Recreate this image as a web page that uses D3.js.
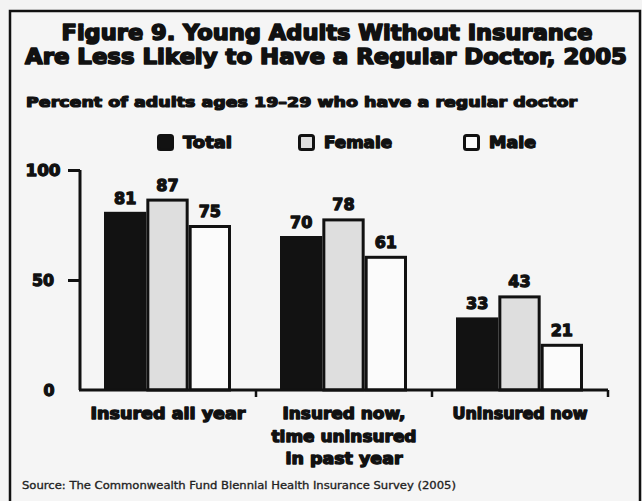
<!DOCTYPE html>
<html><head><meta charset="utf-8">
<script src="https://cdn.jsdelivr.net/npm/d3@7/dist/d3.min.js"></script>
<style>body{margin:0;background:#f3f3f3}svg{display:block}</style>
</head><body><svg id="c" width="642" height="501"></svg>
<script>
const titleLines = ["Figure 9. Young Adults Without Insurance", "Are Less Likely to Have a Regular Doctor, 2005"];
const subtitle = "Percent of adults ages 19\u201329 who have a regular doctor";
const source = "Source: The Commonwealth Fund Biennial Health Insurance Survey (2005)";
const categories = ["Insured all year", "Insured now, time uninsured in past year", "Uninsured now"];
const categoryLines = [["Insured all year"], ["Insured now,", "time uninsured", "in past year"], ["Uninsured now"]];
const series = ["Total", "Female", "Male"];
const totalValues = [81, 70, 33];
const femaleValues = [87, 78, 43];
const maleValues = [75, 61, 21];
const yTicks = [0, 50, 100];

const seriesValues = {Total: totalValues, Female: femaleValues, Male: maleValues};
const fills = {Total: "#121212", Female: "#dedede", Male: "#fbfbfb"};
const FONT = "'DejaVu Sans', 'Liberation Sans', sans-serif";

const svg = d3.select("#c");
svg.append("rect").attr("width", 642).attr("height", 501).attr("fill", "#f3f3f3");
// frame
svg.append("rect").attr("x", 10).attr("y", 11).attr("width", 630).attr("height", 520)
  .attr("fill", "#f5f5f5").attr("stroke", "#111").attr("stroke-width", 2.5);

function bold(sel, size, sw) {
  return sel.attr("font-family", FONT).attr("font-weight", "bold").attr("font-size", size)
    .attr("fill", "#111").attr("stroke", "#111").attr("stroke-width", sw)
    .attr("stroke-linejoin", "round").attr("paint-order", "stroke");
}

// titles
const titleLayout = [{x: 327, y: 40, w: 531}, {x: 326, y: 64, w: 602}];
titleLines.forEach((t, i) => {
  bold(svg.append("text"), 21, 1.6).attr("x", titleLayout[i].x).attr("y", titleLayout[i].y)
    .attr("text-anchor", "middle").attr("textLength", titleLayout[i].w)
    .attr("lengthAdjust", "spacingAndGlyphs").text(t);
});
bold(svg.append("text"), 14, 1.2).attr("x", 26).attr("y", 107)
  .attr("textLength", 551).attr("lengthAdjust", "spacingAndGlyphs").text(subtitle);

// scales
const x0 = d3.scaleBand().domain(categories).range([80, 608]).padding(0);
const x1 = d3.scaleBand().domain(series).range([24, 151]).padding(0);
const y = d3.scaleLinear().domain([0, 100]).range([390, 170]);

// legend
const legendX = [157, 298, 463];
const legendW = [49, 68, 47];
series.forEach((s, i) => {
  svg.append("rect").attr("x", legendX[i] + 1.5).attr("y", 135.5).attr("width", 14).attr("height", 14)
    .attr("rx", 2).attr("fill", fills[s]).attr("stroke", "#111").attr("stroke-width", 3);
  bold(svg.append("text"), 15, 1.3).attr("x", legendX[i] + 26).attr("y", 148)
    .attr("textLength", legendW[i]).attr("lengthAdjust", "spacingAndGlyphs").text(s);
});

// bars
const g = svg.append("g");
categories.forEach((c, ci) => {
  series.forEach(s => {
    const v = seriesValues[s][ci];
    const bx = x0(c) + x1(s);
    const outlined = s !== "Total";
    g.append("rect")
      .attr("x", bx + (outlined ? 1.5 : 0))
      .attr("y", y(v) + (outlined ? 1.5 : 0))
      .attr("width", x1.bandwidth() - (outlined ? 3 : 0))
      .attr("height", y(0) - y(v) - (outlined ? 1.5 : 0))
      .attr("fill", fills[s])
      .attr("stroke", outlined ? "#111" : "none")
      .attr("stroke-width", 3);
    bold(g.append("text"), 16, 1.3).attr("x", bx + x1.bandwidth() / 2).attr("y", y(v) - 8)
      .attr("text-anchor", "middle").text(v);
  });
});

// y axis
const yAxis = svg.append("g").attr("transform", "translate(80,0)")
  .call(d3.axisLeft(y).tickValues(yTicks).tickSize(12).tickPadding(8).tickFormat(d3.format("d")));
yAxis.select(".domain").attr("d", "M0," + y(100) + "V" + y(0)).attr("stroke", "#111").attr("stroke-width", 3);
yAxis.selectAll(".tick line").attr("stroke", "#111").attr("stroke-width", 3)
  .attr("display", d => d === 0 ? "none" : null);
yAxis.selectAll(".tick text").call(s => bold(s, 16, 1.3))
  .attr("text-anchor", "middle").attr("x", d => d === 0 ? -31 : -37).attr("dy", "0.35em")
  .attr("textLength", d => d === 100 ? 35 : (d === 50 ? 22 : 11)).attr("lengthAdjust", "spacingAndGlyphs");

// x axis
const xAxis = svg.append("g").attr("transform", "translate(0," + y(0) + ")");
xAxis.append("path").attr("d", "M79,0H" + x0.range()[1]).attr("stroke", "#111").attr("stroke-width", 3).attr("fill", "none");
categories.forEach(c => {
  const xe = x0(c) + x0.bandwidth();
  xAxis.append("line").attr("x1", xe).attr("x2", xe).attr("y1", 0).attr("y2", 7)
    .attr("stroke", "#111").attr("stroke-width", 2.5);
});
const catW = [[155], [123, 145, 117], [135]];
categories.forEach((c, ci) => {
  categoryLines[ci].forEach((line, li) => {
    bold(svg.append("text"), 16, 1.4).attr("x", x0(c) + x0.bandwidth() / 2).attr("y", 419 + li * 22.5)
      .attr("text-anchor", "middle").attr("textLength", catW[ci][li])
      .attr("lengthAdjust", "spacingAndGlyphs").text(line);
  });
});

// source
svg.append("text").attr("x", 22).attr("y", 489).attr("font-family", FONT).attr("font-size", 10)
  .attr("fill", "#222").attr("stroke", "#222").attr("stroke-width", 0.3)
  .attr("textLength", 434).attr("lengthAdjust", "spacingAndGlyphs").text(source);
</script></body></html>
